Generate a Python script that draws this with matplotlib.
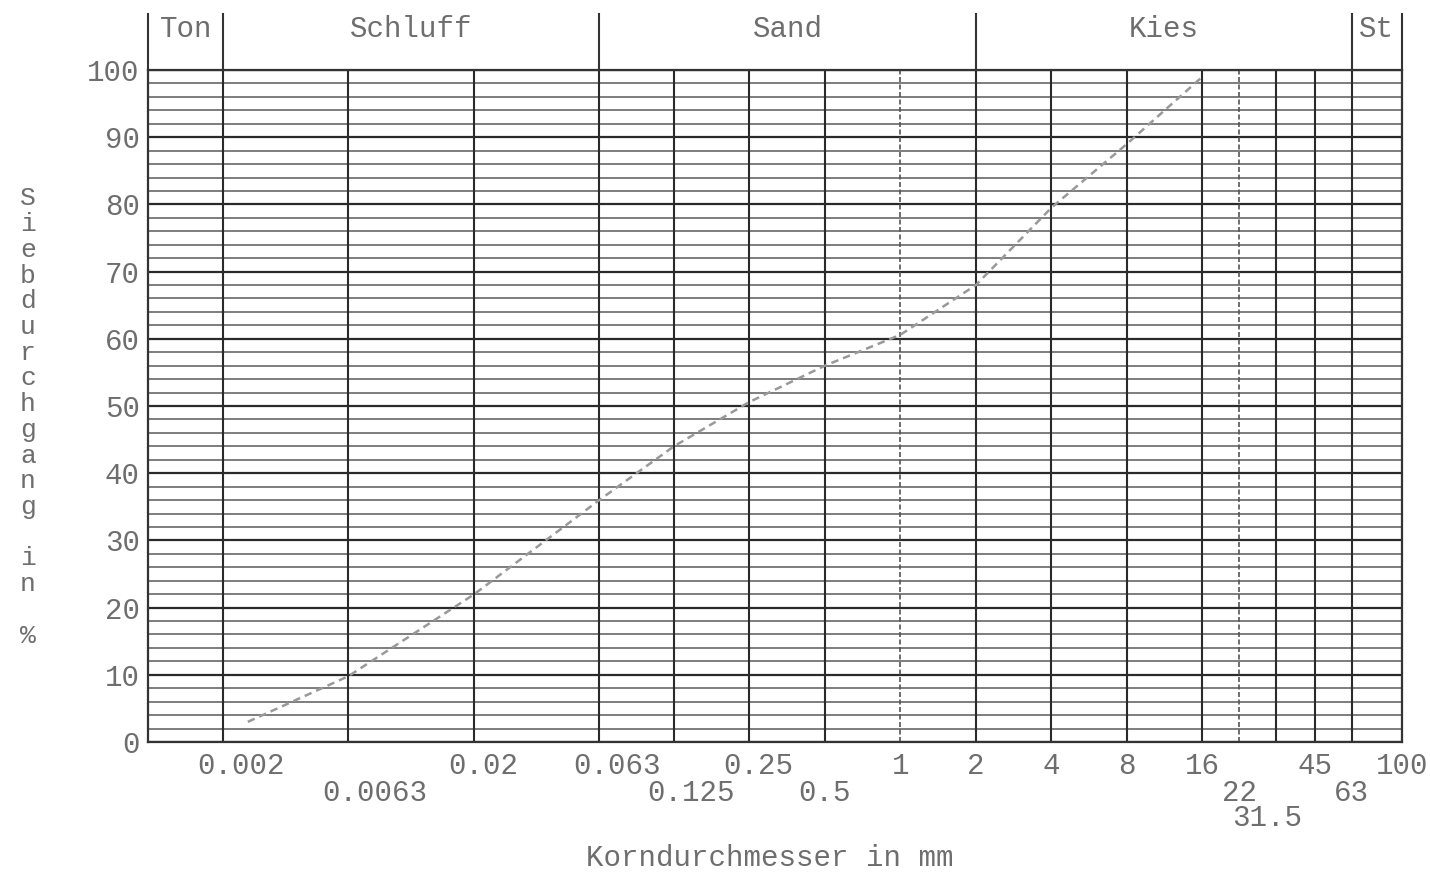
import matplotlib
matplotlib.use("Agg")
import matplotlib.pyplot as plt
import matplotlib.transforms as mtrans
from matplotlib.ticker import NullLocator

# ---------------- data ----------------
zone_names = ["Ton", "Schluff", "Sand", "Kies", "St"]
zone_bounds = [0.001, 0.002, 0.063, 2, 63, 100]

sieve_sizes = [0.002, 0.0063, 0.02, 0.063, 0.125, 0.25, 0.5, 1, 2, 4, 8, 16,
               22.4, 31.5, 45, 63, 100]
sieve_labels = ["0.002", "0.0063", "0.02", "0.063", "0.125", "0.25", "0.5", "1",
                "2", "4", "8", "16", "22", "31.5", "45", "63", "100"]
sieve_rows = [0, 1, 0, 0, 1, 0, 1, 0, 0, 0, 0, 0, 1, 2, 0, 1, 0]

y_ticks = [0, 10, 20, 30, 40, 50, 60, 70, 80, 90, 100]

grain_size = [0.0025, 0.0063, 0.02, 0.063, 0.125, 0.25, 0.5, 1, 2, 4, 8, 16]
passing = [3, 9.8, 22, 36, 44, 50.6, 56, 60.6, 68, 79.5, 89, 99]

# ---------------- style ----------------
FONT = "Liberation Mono"
TXT = "#6e6e6e"
W, H = 1430, 876
fig = plt.figure(figsize=(W / 100, H / 100), dpi=100)
fig.patch.set_facecolor("white")
ax = fig.add_axes([148 / W, 134 / H, 1254 / W, 672 / H])
ax.set_xscale("log")
ax.set_xlim(zone_bounds[0], zone_bounds[-1])
ax.set_ylim(0, 100)
ax.xaxis.set_major_locator(NullLocator())
ax.xaxis.set_minor_locator(NullLocator())

# horizontal grid every 2 %
for v in range(0, 101, 2):
    major = (v % 10 == 0)
    ax.axhline(v, color="#2a2a2a" if major else "#5a5a5a",
               lw=1.6 if major else 1.1, zorder=1)

# vertical grid at sieve sizes
for d in sieve_sizes[:-1]:
    light = d in (1, 22.4)
    ax.axvline(d, color="#555555" if light else "#2a2a2a",
               lw=1.2 if light else 1.5,
               ls=(0, (3, 1.5)) if light else "-", zorder=1)

for s in ax.spines.values():
    s.set_color("#333333")
    s.set_linewidth(1.6)

# curve
ax.plot(grain_size, passing, color="#999999", lw=1.8, ls=(0, (3, 2)), zorder=3)

# y ticks
fs = 21
ax.set_yticks(y_ticks)
ax.set_yticklabels([str(v) for v in y_ticks], fontfamily=FONT, fontsize=fs, color=TXT)
ax.tick_params(axis="y", length=0, pad=6)

# x tick labels (staggered rows, decimal point aligned to the line)
cw = 0.6 * fs  # char width in points
row_off = [-17, -37, -55]  # points
xb = ax.get_xaxis_transform()
for d, lab, r in zip(sieve_sizes, sieve_labels, sieve_rows):
    if "." in lab:
        dx = (len(lab) / 2 - lab.index(".") - 0.5) * cw
    else:
        dx = 0
    tr = xb + mtrans.ScaledTranslation(dx / 72, row_off[r] / 72, fig.dpi_scale_trans)
    ax.text(d, 0, lab, transform=tr, ha="center", va="center",
            fontfamily=FONT, fontsize=fs, color=TXT, clip_on=False)

# zone band on top
top = 1 + (70 - 14) / 672
for b in zone_bounds:
    ax.plot([b, b], [1, top], transform=xb, color="#333333", lw=1.5, clip_on=False)
for i, name in enumerate(zone_names):
    xc = (zone_bounds[i] * zone_bounds[i + 1]) ** 0.5
    ax.text(xc, 1 + (70 - 29) / 672, name, transform=xb, ha="center", va="center",
            fontfamily=FONT, fontsize=fs, color=TXT, clip_on=False)

# axis titles
fig.text(770 / W, 1 - 858 / H, "Korndurchmesser in mm", ha="center", va="center",
         fontfamily=FONT, fontsize=fs, color=TXT)
fig.text(28 / W, 1 - 417 / H, "\n".join("Siebdurchgang in %"), ha="center",
         va="center", fontfamily=FONT, fontsize=19, color=TXT, linespacing=1.09)

fig.savefig("out.png", dpi=100, facecolor="white")
